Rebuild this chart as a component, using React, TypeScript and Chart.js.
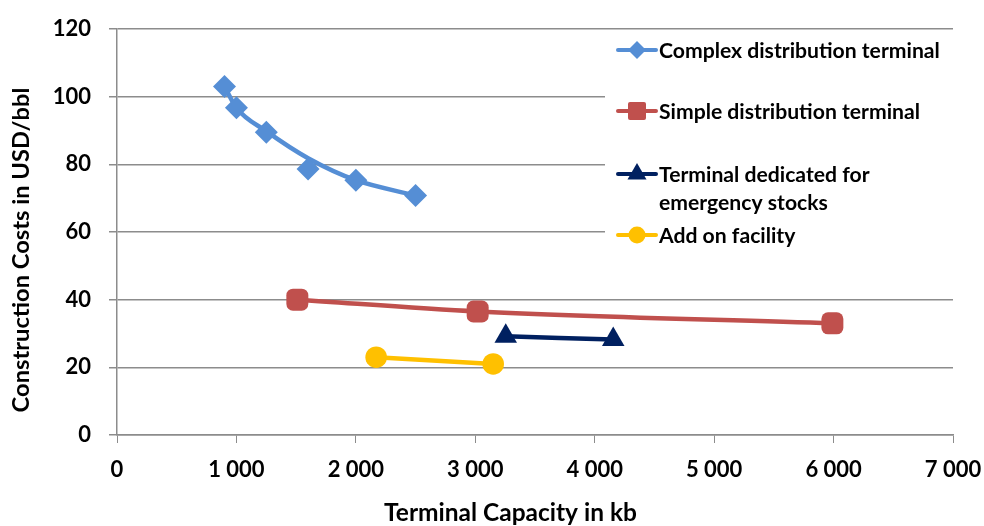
import { useEffect, useRef } from "react";
import { Chart, registerables } from "chart.js";
Chart.register(...registerables);

const seriesNames = [
  "Complex distribution terminal",
  "Simple distribution terminal",
  "Terminal dedicated for emergency stocks",
  "Add on facility",
];
const legendLines = [
  ["Complex distribution terminal"],
  ["Simple distribution terminal"],
  ["Terminal dedicated for", "emergency stocks"],
  ["Add on facility"],
];

const complexCapacity = [900, 1000, 1250, 1600, 2000, 2500];
const complexCost = [103, 96.7, 89.5, 78.6, 75.3, 70.8];
// smoothed line as drawn in the picture
const complexLineCapacity = [900, 1000, 1250, 1600, 2000, 2500];
const complexLineCost = [103, 96.7, 89.8, 81.8, 75.3, 70.8];

const simpleCapacity = [1510, 3020, 5990];
const simpleCost = [40, 36.5, 33];

const emergencyCapacity = [3255, 4155];
const emergencyCost = [29.2, 28.2];

const addOnCapacity = [2170, 3150];
const addOnCost = [23, 21];

const seriesColors = ["#558ED5", "#C0504D", "#002060", "#FFC000"];
const pointStyles = ["rectRot", "rectRounded", "triangle", "circle"];
const pointRadii = [11.5, 12.8, 13, 10.8];

const xTitle = "Terminal Capacity in kb";
const yTitle = "Construction Costs in USD/bbl";

const FONT = "Lato, 'Open Sans', sans-serif";
const GRID = "#8c8c8c";

function pts(xs: number[], ys: number[]) {
  return xs.map((x, i) => ({ x, y: ys[i] }));
}

function fitSize(text: string, width: number) {
  const c = document.createElement("canvas").getContext("2d")!;
  c.font = `bold 100px ${FONT}`;
  return (100 * width) / c.measureText(text).width;
}

function drawMarker(ctx: CanvasRenderingContext2D, style: string, x: number, y: number, r: number) {
  ctx.beginPath();
  if (style === "rectRot") {
    ctx.moveTo(x - r, y);
    ctx.lineTo(x, y - r);
    ctx.lineTo(x + r, y);
    ctx.lineTo(x, y + r);
    ctx.closePath();
  } else if (style === "rectRounded") {
    const s = r;
    const c = 2;
    ctx.moveTo(x - s + c, y - s);
    ctx.arcTo(x + s, y - s, x + s, y + s, c);
    ctx.arcTo(x + s, y + s, x - s, y + s, c);
    ctx.arcTo(x - s, y + s, x - s, y - s, c);
    ctx.arcTo(x - s, y - s, x + s, y - s, c);
    ctx.closePath();
  } else if (style === "triangle") {
    ctx.moveTo(x, y - r);
    ctx.lineTo(x + r * 0.866, y + r * 0.5);
    ctx.lineTo(x - r * 0.866, y + r * 0.5);
    ctx.closePath();
  } else {
    ctx.arc(x, y, r, 0, Math.PI * 2);
  }
  ctx.fill();
}

const overlayPlugin = {
  id: "overlay",
  afterDraw(chart: any) {
    const ctx: CanvasRenderingContext2D = chart.ctx;
    const area = chart.chartArea;
    ctx.save();
    ctx.fillStyle = "#ffffff";
    ctx.fillRect(605, area.top + 2, area.right - 605, 226);
    const rowY = [50, 111, 174, 235];
    const markerR = [9, 9, 11, 8.5];
    const legendSize = fitSize(legendLines[0][0], 281);
    legendLines.forEach((lines, i) => {
      const y = rowY[i];
      ctx.strokeStyle = seriesColors[i];
      ctx.fillStyle = seriesColors[i];
      ctx.lineWidth = 4;
      ctx.lineCap = "round";
      ctx.beginPath();
      ctx.moveTo(618, y);
      ctx.lineTo(656, y);
      ctx.stroke();
      drawMarker(ctx, pointStyles[i], 637, y, markerR[i]);
      ctx.fillStyle = "#000000";
      ctx.font = `bold ${legendSize}px ${FONT}`;
      ctx.textAlign = "left";
      ctx.textBaseline = "middle";
      lines.forEach((t, j) => ctx.fillText(t, 659, y + 1 + j * 28));
    });
    ctx.fillStyle = "#000000";
    ctx.font = `bold ${fitSize(xTitle, 253)}px ${FONT}`;
    ctx.textAlign = "center";
    ctx.textBaseline = "alphabetic";
    ctx.fillText(xTitle, 510.5, 521);
    ctx.save();
    ctx.translate(29, 250);
    ctx.rotate(-Math.PI / 2);
    ctx.font = `bold ${fitSize(yTitle, 325)}px ${FONT}`;
    ctx.fillText(yTitle, 0, 0);
    ctx.restore();
    ctx.restore();
  },
};

export default function App() {
  const ref = useRef<HTMLCanvasElement>(null);
  useEffect(() => {
    document.body.style.margin = "0";
    const allX = [complexCapacity, simpleCapacity, emergencyCapacity, addOnCapacity];
    const allY = [complexCost, simpleCost, emergencyCost, addOnCost];
    const tickSize = 22;
    const datasets: any[] = [
      {
        label: seriesNames[0] + " line",
        data: pts(complexLineCapacity, complexLineCost),
        borderColor: seriesColors[0],
        backgroundColor: seriesColors[0],
        borderWidth: 4.5,
        cubicInterpolationMode: "monotone",
        pointRadius: 0,
        fill: false,
        order: 5,
      },
    ];
    seriesNames.forEach((name, i) => {
      datasets.push({
        label: name,
        data: pts(allX[i], allY[i]),
        borderColor: seriesColors[i],
        backgroundColor: seriesColors[i],
        borderWidth: 4.5,
        showLine: i !== 0,
        cubicInterpolationMode: "monotone",
        pointStyle: pointStyles[i] as any,
        pointRadius: pointRadii[i],
        pointBorderWidth: 0,
        fill: false,
        order: 4 - i,
      });
    });
    const chart = new Chart(ref.current!, {
      type: "line",
      data: { datasets },
      options: {
        animation: false,
        responsive: false,
        layout: { padding: { top: 29, right: 31, bottom: 0, left: 0 } },
        plugins: { legend: { display: false }, tooltip: { enabled: false } },
        scales: {
          x: {
            type: "linear",
            min: 0,
            max: 7000,
            afterFit: (s: any) => {
              s.height = 91;
              s.paddingLeft = 0;
              s.paddingRight = 0;
            },
            ticks: {
              stepSize: 1000,
              color: "#000",
              padding: 14,
              font: { family: FONT, size: tickSize, weight: "bold" },
              callback: (v: any) => String(v).replace(/\B(?=(\d{3})+(?!\d))/g, " "),
            },
            grid: { drawOnChartArea: false, drawTicks: true, tickLength: 8, color: GRID },
            border: { color: GRID, width: 1.5 },
          },
          y: {
            min: 0,
            max: 120,
            afterFit: (s: any) => {
              s.width = 117;
              s.paddingTop = 0;
              s.paddingBottom = 0;
            },
            ticks: {
              stepSize: 20,
              color: "#000",
              padding: 18,
              font: { family: FONT, size: tickSize, weight: "bold" },
            },
            grid: { color: GRID, lineWidth: 1.5, tickLength: 8 },
            border: { color: GRID, width: 1.5 },
          },
        },
      },
      plugins: [overlayPlugin],
    });
    return () => chart.destroy();
  }, []);
  return (
    <div style={{ position: "fixed", left: 0, top: 0, width: 984, height: 526, background: "#fff" }}>
      <canvas ref={ref} width={984} height={526} />
    </div>
  );
}
